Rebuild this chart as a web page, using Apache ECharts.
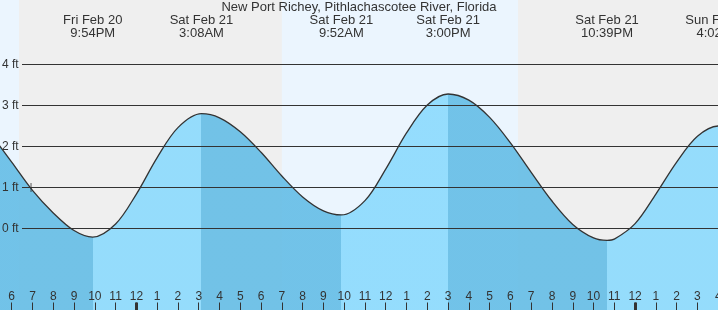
<!DOCTYPE html>
<html><head><meta charset="utf-8">
<script src="https://cdn.jsdelivr.net/npm/echarts@6/dist/echarts.min.js"></script>
<style>html,body{margin:0;padding:0;background:#ebf5fe}#c{width:718px;height:310px}</style>
</head><body><div id="c"></div>
<script>
const chartTitle = 'New Port Richey, Pithlachascotee River, Florida';
// times in hours after 6:00 PM Fri Feb 20; heights in ft
const readingTimes = [-1, 0, 1, 2, 3, 5, 6, 7, 8, 10, 11, 12, 13, 14, 15, 17, 18, 19, 20, 22, 23, 24, 25, 26, 27, 28, 29, 30, 31, 32, 33, 35];
const readingHeights = [2.30, 1.62, 0.93, 0.38, -0.05, 0.11, 0.84, 1.73, 2.46, 2.70, 2.36, 1.86, 1.28, 0.77, 0.43, 0.68, 1.45, 2.33, 3.01, 3.13, 2.71, 2.09, 1.37, 0.67, 0.10, -0.23, -0.26, 0.12, 0.84, 1.62, 2.25, 2.42];
const extremeTimes = [3.9, 9.133, 15.867, 21, 28.65, 34.033];
const extremeHeights = [-0.21, 2.80, 0.33, 3.28, -0.29, 2.50];
const extremeDates = ['Fri Feb 20', 'Sat Feb 21', 'Sat Feb 21', 'Sat Feb 21', 'Sat Feb 21', 'Sun Feb 22'];
const extremeClock = ['9:54PM', '3:08AM', '9:52AM', '3:00PM', '10:39PM', '4:02AM'];
const nightStarts = [0.35, 24.367];
const nightEnds = [13.0, 36.98];
const midnightHours = [6, 30];
const yTicks = [0, 1, 2, 3, 4];
const nowTime = 0.93, nowHeight = 1.0;
const hourRange = [-1, 35];
const heightRange = [-2, 5.6];

const FONT = '"Liberation Sans", Arial, sans-serif';
const TXT = '#333';
const RISING = '#8bdafd', FALLING = '#64bde6';

const tideData = readingTimes.map((t, i) => [t, readingHeights[i]])
  .concat(extremeTimes.map((t, i) => [t, extremeHeights[i]]))
  .sort((a, b) => a[0] - b[0]);

const n = extremeTimes.length;
const isHigh = extremeHeights.map((h, i) => h > (i > 0 ? extremeHeights[i - 1] : extremeHeights[i + 1]));
const pieces = [];
const bounds = [-100].concat(extremeTimes, [100]);
for (let i = 0; i <= n; i++) {
  const rising = i < n ? isHigh[i] : !isHigh[n - 1];
  pieces.push({ gte: bounds[i], lt: bounds[i + 1], color: rising ? RISING : FALLING });
}

const chart = echarts.init(document.getElementById('c'));
chart.setOption({
  animation: false,
  backgroundColor: '#ebf5fe',
  title: { text: chartTitle, left: 'center', top: 1, padding: 0,
    textStyle: { fontSize: 13, fontWeight: 'normal', color: TXT, fontFamily: FONT } },
  grid: [
    { left: -9.08, right: -21, top: -1.1, bottom: -0.5, outerBoundsMode: 'none', containLabel: false },
    { left: 22, right: 0, top: -1.1, bottom: -0.5, outerBoundsMode: 'none', containLabel: false }
  ],
  visualMap: { type: 'piecewise', show: false, dimension: 0, seriesIndex: 2, pieces: pieces },
  xAxis: [
    { gridIndex: 0, type: 'value', min: hourRange[0], max: hourRange[1], interval: 1, position: 'bottom', z: 5,
      axisLine: { show: false, onZero: false }, splitLine: { show: false },
      axisTick: { inside: true, length: 8, lineStyle: { color: TXT, width: 1 } },
      axisLabel: { inside: true, margin: 8, color: TXT, fontSize: 12, fontFamily: FONT,
        formatter: v => { const h = (((v + 18) % 24) + 24) % 24; return String(h % 12 || 12); } } },
    { gridIndex: 0, type: 'value', min: hourRange[0], max: hourRange[1], position: 'bottom', z: 6,
      axisLine: { show: false, onZero: false }, splitLine: { show: false }, axisLabel: { show: false },
      axisTick: { inside: true, length: 8, customValues: midnightHours, lineStyle: { color: TXT, width: 3 } } },
    { gridIndex: 0, type: 'value', min: hourRange[0], max: hourRange[1], position: 'top', z: 5,
      axisLine: { show: false, onZero: false }, splitLine: { show: false }, axisTick: { show: false },
      axisLabel: { inside: true, customValues: extremeTimes, margin: 15.5, lineHeight: 12.5, fontSize: 13,
        color: TXT, fontFamily: FONT,
        formatter: v => { const i = extremeTimes.findIndex(t => Math.abs(t - v) < 1e-6); return i < 0 ? '' : extremeDates[i] + '\n' + extremeClock[i]; } } },
    { gridIndex: 1, type: 'value', min: 0, max: 1, show: false }
  ],
  yAxis: [
    { gridIndex: 0, type: 'value', min: heightRange[0], max: heightRange[1], show: false },
    { gridIndex: 1, type: 'value', min: heightRange[0], max: heightRange[1], interval: 1, z: 5,
      axisLine: { show: false, onZero: false }, axisTick: { show: false }, splitLine: { show: false },
      axisLabel: { align: 'left', margin: 20, fontSize: 12, color: TXT, fontFamily: FONT,
        formatter: v => yTicks.includes(v) ? v + ' ft' : '' } }
  ],
  series: [
    { type: 'line', xAxisIndex: 0, yAxisIndex: 0, data: tideData, silent: true, z: 0,
      symbol: 'none', lineStyle: { width: 0, opacity: 0 },
      markArea: { silent: true, itemStyle: { color: '#efefef' },
        data: nightStarts.map((s, i) => [{ xAxis: s }, { xAxis: nightEnds[i] }]) } },
    { type: 'line', xAxisIndex: 3, yAxisIndex: 1, data: yTicks.map(v => [0, v]), silent: true, z: 1,
      symbol: 'none', lineStyle: { width: 0, opacity: 0 },
      markLine: { silent: true, symbol: ['none', 'none'], label: { show: false },
        lineStyle: { color: TXT, width: 1, type: 'solid' },
        data: yTicks.map(v => ({ yAxis: v })) } },
    { type: 'line', xAxisIndex: 0, yAxisIndex: 0, data: tideData, smooth: 0.33, symbol: 'none', z: 2,
      lineStyle: { color: TXT, width: 1.3 }, areaStyle: { opacity: 0.9, origin: 'start' } },
    { type: 'scatter', xAxisIndex: 0, yAxisIndex: 0, data: [[nowTime, nowHeight]], z: 4,
      symbol: 'path://M0,4h9v1h-9zM4,0h1v9h-1z', symbolSize: 9, itemStyle: { color: TXT } }
  ]
});
</script></body></html>
